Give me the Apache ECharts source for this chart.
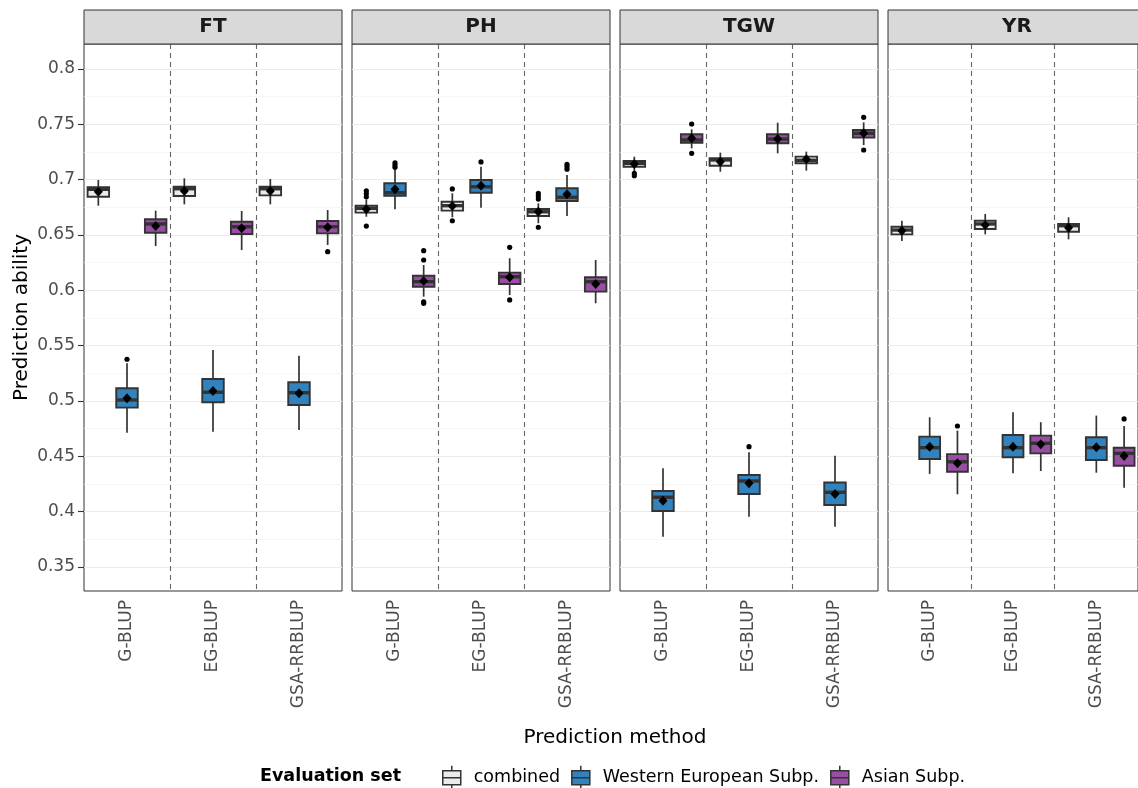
<!DOCTYPE html>
<html><head><meta charset="utf-8">
<script src="https://cdn.jsdelivr.net/npm/echarts@6/dist/echarts.min.js"></script>
<style>html,body{margin:0;padding:0;background:#fff}#c{width:1138px;height:788px}</style>
</head><body><div id="c"></div>
<script>
const traits = ['FT', 'PH', 'TGW', 'YR'];
const methods = ['G-BLUP', 'EG-BLUP', 'GSA-RRBLUP'];
const evalSets = ['combined', 'Western European Subp.', 'Asian Subp.'];
const yTicks = [0.35, 0.4, 0.45, 0.5, 0.55, 0.6, 0.65, 0.7, 0.75, 0.8];
const yMinorTicks = [0.375, 0.425, 0.475, 0.525, 0.575, 0.625, 0.675, 0.725, 0.775];
const methodBoundaries = [0.5, 1.5];

// box stats per method: [lower whisker, Q1, median, Q3, upper whisker]
const FT_combined = [[0.6765, 0.6846, 0.6913, 0.6931, 0.6997], [0.6777, 0.6852, 0.6918, 0.6936, 0.7012], [0.6777, 0.6858, 0.6918, 0.6936, 0.7006]];
const FT_combined_mean = [0.6891, 0.6898, 0.6898];
const FT_combined_out = [[], [], []];
const FT_western = [[0.4714, 0.4940, 0.5009, 0.5115, 0.5341], [0.4723, 0.4988, 0.5079, 0.5199, 0.5461], [0.4738, 0.4964, 0.5075, 0.5169, 0.5409]];
const FT_western_mean = [0.5024, 0.5090, 0.5070];
const FT_western_out = [[0.5377], [], []];
const FT_asian = [[0.6400, 0.6521, 0.6600, 0.6642, 0.6720], [0.6364, 0.6509, 0.6575, 0.6620, 0.6717], [0.6410, 0.6515, 0.6575, 0.6627, 0.6726]];
const FT_asian_mean = [0.6581, 0.6560, 0.6570];
const FT_asian_out = [[], [], [0.6349]];

const PH_combined = [[0.6665, 0.6702, 0.6741, 0.6765, 0.6820], [0.6660, 0.6720, 0.6765, 0.6801, 0.6877], [0.6606, 0.6672, 0.6710, 0.6735, 0.6786]];
const PH_combined_mean = [0.6733, 0.6762, 0.6710];
const PH_combined_out = [[0.6845, 0.6875, 0.6900, 0.6581], [0.6916, 0.6629], [0.6825, 0.6852, 0.6877, 0.6570]];
const PH_western = [[0.6732, 0.6855, 0.6882, 0.6967, 0.7087], [0.6747, 0.6882, 0.6936, 0.6997, 0.7117], [0.6672, 0.6807, 0.6841, 0.6922, 0.7042]];
const PH_western_mean = [0.6913, 0.6946, 0.6868];
const PH_western_out = [[0.7112, 0.7132, 0.7153], [0.7160], [0.7095, 0.7117, 0.7139]];
const PH_asian = [[0.5943, 0.6033, 0.6078, 0.6132, 0.6229], [0.5958, 0.6057, 0.6123, 0.6160, 0.6290], [0.5883, 0.5988, 0.6078, 0.6118, 0.6274]];
const PH_asian_mean = [0.6084, 0.6118, 0.6057];
const PH_asian_out = [[0.6274, 0.6358, 0.5897, 0.5883], [0.6389, 0.5913], []];

const TGW_combined = [[0.7072, 0.7117, 0.7148, 0.7169, 0.7208], [0.7072, 0.7126, 0.7178, 0.7193, 0.7244], [0.7081, 0.7148, 0.7175, 0.7208, 0.7253]];
const TGW_combined_mean = [0.7142, 0.7163, 0.7184];
const TGW_combined_out = [[0.7057, 0.7036], [], []];
const TGW_western = [[0.3774, 0.4006, 0.4130, 0.4187, 0.4392], [0.3955, 0.4160, 0.4277, 0.4331, 0.4536], [0.3864, 0.4060, 0.4175, 0.4263, 0.4506]];
const TGW_western_mean = [0.4099, 0.4256, 0.4160];
const TGW_western_out = [[], [0.4587], []];
const TGW_asian = [[0.7283, 0.7334, 0.7359, 0.7410, 0.7455], [0.7238, 0.7329, 0.7367, 0.7410, 0.7515], [0.7313, 0.7380, 0.7419, 0.7449, 0.7518]];
const TGW_asian_mean = [0.7374, 0.7367, 0.7419];
const TGW_asian_out = [[0.7503, 0.7238], [], [0.7563, 0.7268]];

const YR_combined = [[0.6446, 0.6506, 0.6545, 0.6575, 0.6629], [0.6506, 0.6554, 0.6600, 0.6629, 0.6690], [0.6461, 0.6530, 0.6584, 0.6600, 0.6660]];
const YR_combined_mean = [0.6539, 0.6590, 0.6566];
const YR_combined_out = [[], [], []];
const YR_western = [[0.4341, 0.4476, 0.4578, 0.4678, 0.4853], [0.4347, 0.4491, 0.4578, 0.4693, 0.4898], [0.4352, 0.4467, 0.4578, 0.4672, 0.4868]];
const YR_western_mean = [0.4587, 0.4587, 0.4582];
const YR_western_out = [[], [], []];
const YR_asian = [[0.4157, 0.4361, 0.4451, 0.4520, 0.4732], [0.4367, 0.4527, 0.4618, 0.4687, 0.4808], [0.4217, 0.4415, 0.4527, 0.4578, 0.4774]];
const YR_asian_mean = [0.4437, 0.4609, 0.4503];
const YR_asian_out = [[0.4774], [], [0.4838]];

const table = {
  FT: [[FT_combined, FT_combined_mean, FT_combined_out], [FT_western, FT_western_mean, FT_western_out], [FT_asian, FT_asian_mean, FT_asian_out]],
  PH: [[PH_combined, PH_combined_mean, PH_combined_out], [PH_western, PH_western_mean, PH_western_out], [PH_asian, PH_asian_mean, PH_asian_out]],
  TGW: [[TGW_combined, TGW_combined_mean, TGW_combined_out], [TGW_western, TGW_western_mean, TGW_western_out], [TGW_asian, TGW_asian_mean, TGW_asian_out]],
  YR: [[YR_combined, YR_combined_mean, YR_combined_out], [YR_western, YR_western_mean, YR_western_out], [YR_asian, YR_asian_mean, YR_asian_out]]
};

const fills = ['#ebebeb', '#3182bd', '#984ea3'];
const panelLeft = [84, 352, 620, 888];
const panelWidth = 258;
const panelTop = 44;
const panelHeight = 547;
const yMin = 0.3283, yMax = 0.8226;
const FONT = '"DejaVu Sans", sans-serif';

function makeRender(setIdx, color, outs) {
  return function (params, api) {
    const i = api.value(0);
    const band = api.size([1, 0])[0];
    const cx = api.coord([i, api.value(3)])[0] + (setIdx - 1) * band / 3;
    const y = k => api.coord([i, api.value(k)])[1];
    const yl = y(1), yq1 = y(2), ym = y(3), yq3 = y(4), yh = y(5), ymean = y(6);
    const w = band * 0.25;
    const stroke = '#333333';
    const children = [
      { type: 'line', shape: { x1: cx, y1: yh, x2: cx, y2: yq3 }, style: { stroke, lineWidth: 1.7 } },
      { type: 'line', shape: { x1: cx, y1: yq1, x2: cx, y2: yl }, style: { stroke, lineWidth: 1.7 } },
      { type: 'rect', shape: { x: cx - w / 2, y: yq3, width: w, height: yq1 - yq3 }, style: { fill: color, stroke, lineWidth: 1.9 } },
      { type: 'line', shape: { x1: cx - w / 2, y1: ym, x2: cx + w / 2, y2: ym }, style: { stroke, lineWidth: 3.4 } }
    ];
    (outs[params.dataIndex] || []).forEach(v => {
      const p = api.coord([i, v]);
      children.push({ type: 'circle', shape: { cx, cy: p[1], r: 2.6 }, style: { fill: '#000' } });
    });
    children.push({ type: 'polygon', shape: { points: [[cx, ymean - 5], [cx + 4.5, ymean], [cx, ymean + 5], [cx - 4.5, ymean]] }, style: { fill: '#000' } });
    return { type: 'group', children };
  };
}

const grids = [], xAxes = [], yAxes = [], series = [], graphics = [];
traits.forEach((tr, t) => {
  grids.push({ left: panelLeft[t], top: panelTop, width: panelWidth, height: panelHeight, show: true, borderColor: '#333333', borderWidth: 1, backgroundColor: '#fff', containLabel: false });
  xAxes.push({
    type: 'category', gridIndex: t, data: methods, boundaryGap: true, position: 'bottom',
    axisLine: { show: false, onZero: false }, axisTick: { show: false },
    axisLabel: { rotate: 90, fontSize: 17, color: '#4d4d4d', margin: 9, fontFamily: FONT },
    splitLine: { show: false }
  });
  xAxes.push({
    type: 'value', gridIndex: t, min: -0.5, max: 2.5, position: 'top',
    axisLine: { show: false, onZero: false },
    axisTick: { show: false, customValues: methodBoundaries },
    axisLabel: { show: false, customValues: methodBoundaries },
    splitLine: { show: true, lineStyle: { color: '#666666', type: [5, 4], width: 1.1 } }
  });
  yAxes.push({
    type: 'value', gridIndex: t, min: yMin, max: yMax, position: 'left',
    axisLine: { show: false, onZero: false },
    axisTick: { show: t === 0, customValues: yTicks, length: 6, lineStyle: { color: '#333333', width: 1.1 } },
    axisLabel: { show: t === 0, customValues: yTicks, fontSize: 17, color: '#4d4d4d', margin: 9, fontFamily: FONT, formatter: v => String(+v.toFixed(3)) },
    splitLine: { show: true, lineStyle: { color: '#ebebeb', width: 1.2 } },
    name: t === 0 ? 'Prediction ability' : '', nameLocation: 'middle', nameGap: 52,
    nameTextStyle: { fontSize: 20, color: '#000', fontFamily: FONT }
  });
  yAxes.push({
    type: 'value', gridIndex: t, min: yMin, max: yMax, position: 'right',
    axisLine: { show: false, onZero: false },
    axisTick: { show: false, customValues: yMinorTicks },
    axisLabel: { show: false, customValues: yMinorTicks },
    splitLine: { show: true, lineStyle: { color: '#f4f4f4', width: 0.7 } }
  });
  table[tr].forEach((entry, s) => {
    const [box, mean, outs] = entry;
    series.push({
      type: 'custom', name: evalSets[s], xAxisIndex: t * 2, yAxisIndex: t * 2,
      itemStyle: { color: fills[s], borderColor: '#333' },
      encode: { x: 0, y: [1, 2, 3, 4, 5, 6] },
      data: methods.map((m, i) => [i, box[i][0], box[i][1], box[i][2], box[i][3], box[i][4], mean[i]]),
      renderItem: makeRender(s, fills[s], outs), z: 3
    });
  });
  graphics.push({ type: 'rect', shape: { x: panelLeft[t], y: 10, width: panelWidth, height: panelTop - 10 }, style: { fill: '#d9d9d9', stroke: '#333333', lineWidth: 1 }, z: 10 });
  graphics.push({ type: 'text', x: panelLeft[t] + panelWidth / 2, y: 27, style: { text: tr, font: 'bold 20px ' + FONT, fill: '#1a1a1a', align: 'center', verticalAlign: 'middle' }, z: 11 });
});

graphics.push({ type: 'text', x: 615, y: 738, style: { text: 'Prediction method', font: '20px ' + FONT, fill: '#000', align: 'center', verticalAlign: 'middle' } });
graphics.push({ type: 'text', x: 260, y: 776, style: { text: 'Evaluation set', font: 'bold 17.5px ' + FONT, fill: '#000', align: 'left', verticalAlign: 'middle' } });

const chart = echarts.init(document.getElementById('c'), null, { renderer: 'canvas' });
chart.setOption({
  animation: false,
  backgroundColor: '#fff',
  textStyle: { fontFamily: FONT },
  grid: grids, xAxis: xAxes, yAxis: yAxes, series,
  legend: {
    left: 437, top: 760, itemWidth: 18, itemHeight: 24, itemGap: 11,
    icon: 'path://M9,0L9,5M0,5L18,5L18,19L0,19ZM0,12L18,12M9,19L9,24',
    data: evalSets.map((n, i) => ({ name: n, itemStyle: { color: fills[i], borderColor: '#333333', borderWidth: 1.5 } })),
    textStyle: { fontSize: 17.5, color: '#000', fontFamily: FONT, padding: [0, 0, 0, 8] }
  },
  graphic: graphics
});
</script></body></html>
